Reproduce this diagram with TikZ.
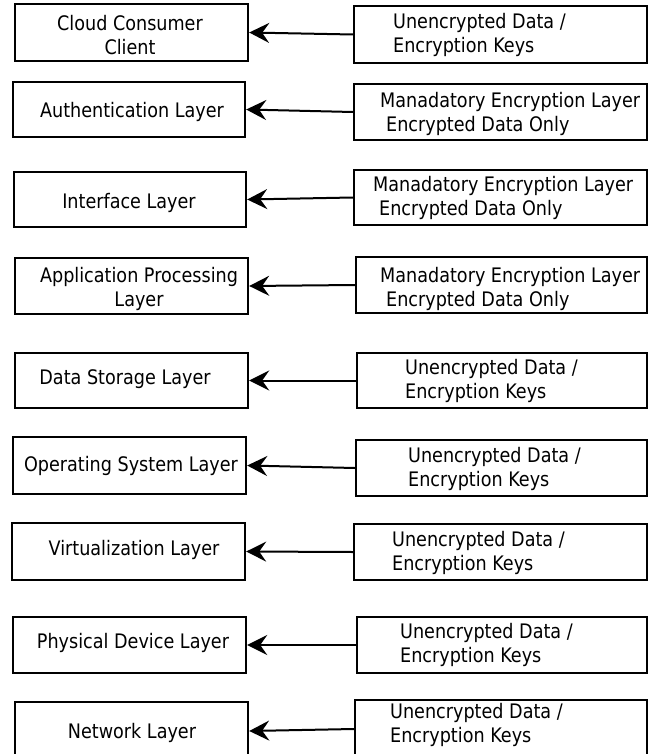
\documentclass[tikz,border=0pt]{standalone}
\usepackage{fontspec}
\setmainfont{DejaVu Sans}[FakeStretch=0.88]
\usetikzlibrary{arrows.meta}
\begin{document}
\begin{tikzpicture}[x=1pt,y=-1pt,
  box/.style={draw=black, line width=2.4pt, inner sep=0pt, fill=white},
  txt/.style={inner sep=0pt, font=\fontsize{20}{24}\selectfont, text=black},
  ltxt/.style={txt, align=center},
  rtxt/.style={txt, align=left, anchor=west},
  arr/.style={line width=2pt, -{Stealth[length=20pt,width=20pt,inset=7pt]}}]
\useasboundingbox[fill=white] (0,0) rectangle (659,754);
\clip (0,0) rectangle (659,754);
% left boxes
\node[box, minimum width=233pt, minimum height=57pt] (L1) at (131.5,32.5) {};
\node[box, minimum width=232pt, minimum height=55pt] (L2) at (129,109.5) {};
\node[box, minimum width=232pt, minimum height=55pt] (L3) at (130,199.5) {};
\node[box, minimum width=233pt, minimum height=56pt] (L4) at (131.5,286) {};
\node[box, minimum width=233pt, minimum height=55pt] (L5) at (131.5,380.5) {};
\node[box, minimum width=233pt, minimum height=57pt] (L6) at (129.5,465.5) {};
\node[box, minimum width=233pt, minimum height=57pt] (L7) at (128.5,551.5) {};
\node[box, minimum width=233pt, minimum height=56pt] (L8) at (129.5,645) {};
\node[box, minimum width=233pt, minimum height=58pt] (L9) at (131.5,731) {};
% right boxes
\node[box, minimum width=293pt, minimum height=57pt] (R1) at (500.5,34.5) {};
\node[box, minimum width=293pt, minimum height=56pt] (R2) at (500.5,112) {};
\node[box, minimum width=293pt, minimum height=55pt] (R3) at (500.5,197.5) {};
\node[box, minimum width=291pt, minimum height=56pt] (R4) at (501.5,285) {};
\node[box, minimum width=290pt, minimum height=55pt] (R5) at (502,380.5) {};
\node[box, minimum width=291pt, minimum height=56pt] (R6) at (501.5,468) {};
\node[box, minimum width=293pt, minimum height=56pt] (R7) at (500.5,552) {};
\node[box, minimum width=290pt, minimum height=56pt] (R8) at (502,645) {};
\node[box, minimum width=292pt, minimum height=58pt] (R9) at (501,729) {};
% left texts
\node[ltxt] (T1) at (130,35) {Cloud Consumer\\Client};
\node[ltxt] (T2) at (132,112) {Authentication Layer};
\node[ltxt] (T3) at (129,203) {Interface Layer};
\node[ltxt] (T4) at (139,288.5) {Application Processing\\Layer};
\node[ltxt] (T5) at (125,379) {Data Storage Layer};
\node[ltxt] (T6) at (131,466) {Operating System Layer};
\node[ltxt] (T7) at (134,550) {Virtualization Layer};
\node[ltxt] (T8) at (133,643) {Physical Device Layer};
\node[ltxt] (T9) at (132,733) {Network Layer};
% right texts
\node[rtxt] (S1) at (393,35) {Unencrypted Data /\\Encryption Keys};
\node[rtxt] (S2) at (380,114) {Manadatory Encryption Layer\\\hspace*{6pt}Encrypted Data Only};
\node[rtxt] (S3) at (373,198) {Manadatory Encryption Layer\\\hspace*{6pt}Encrypted Data Only};
\node[rtxt] (S4) at (380,289) {Manadatory Encryption Layer\\\hspace*{6pt}Encrypted Data Only};
\node[rtxt] (S5) at (405,381) {Unencrypted Data /\\Encryption Keys};
\node[rtxt] (S6) at (408,469) {Unencrypted Data /\\Encryption Keys};
\node[rtxt] (S7) at (392,553) {Unencrypted Data /\\Encryption Keys};
\node[rtxt] (S8) at (400,645) {Unencrypted Data /\\Encryption Keys};
\node[rtxt] (S9) at (390,725) {Unencrypted Data /\\Encryption Keys};
% arrows
\foreach \i in {1,...,9} {
  \draw[arr] (R\i.west) -- (L\i.east);
}
\end{tikzpicture}
\end{document}
